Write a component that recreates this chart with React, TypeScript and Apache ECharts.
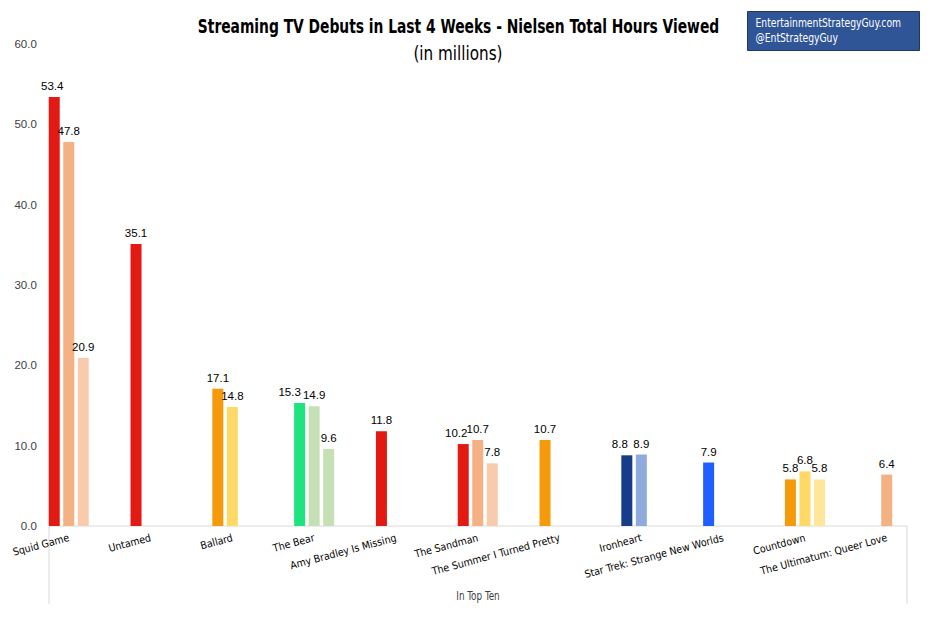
import React, { useEffect, useRef } from "react";
import * as echarts from "echarts";

const categories = [
  "Squid Game",
  "Untamed",
  "Ballard",
  "The Bear",
  "Amy Bradley Is Missing",
  "The Sandman",
  "The Summer I Turned Pretty",
  "Ironheart",
  "Star Trek: Strange New Worlds",
  "Countdown",
  "The Ultimatum: Queer Love",
];

const series1 = [53.4, 35.1, 17.1, 15.3, 11.8, 10.2, 10.7, 8.8, 7.9, 5.8, null];
const series2 = [47.8, null, 14.8, 14.9, null, 10.7, null, 8.9, null, 6.8, 6.4];
const series3 = [20.9, null, null, 9.6, null, 7.8, null, null, null, 5.8, null];

const RED = "#E31A13";
const PEACH = "#F4B183";
const LPEACH = "#F8CBAD";
const ORANGE = "#F59A0A";
const YELLOW = "#FFD966";
const LYELLOW = "#FFE699";
const GREEN = "#1DE47F";
const LGREEN = "#C5E0B4";
const DBLUE = "#183C8C";
const LBLUE = "#8FAADC";
const BLUE = "#1F5EFF";

const colors1 = [RED, RED, ORANGE, GREEN, RED, RED, ORANGE, DBLUE, BLUE, ORANGE, RED];
const colors2 = [PEACH, PEACH, YELLOW, LGREEN, PEACH, PEACH, PEACH, LBLUE, BLUE, YELLOW, PEACH];
const colors3 = [LPEACH, LPEACH, LPEACH, LGREEN, LPEACH, LPEACH, LPEACH, LBLUE, BLUE, LYELLOW, LPEACH];

// horizontal nudges of a few data labels (pixels), as in the reference
const labelNudge1: Record<number, number> = { 0: -2, 3: -10, 5: -7, 7: -7 };

const yTicks = [0, 10, 20, 30, 40, 50, 60];

const TITLE = "Streaming TV Debuts in Last 4 Weeks - Nielsen Total Hours Viewed";
const SUBTITLE = "(in millions)";
const BOX_LINES = ["EntertainmentStrategyGuy.com", "@EntStrategyGuy"];
const AXIS_TITLE = "In Top Ten";

const NARROW = '"DejaVu Sans Condensed", "DejaVu Sans", sans-serif';
const SANS = '"Liberation Sans", Arial, sans-serif';

function makeSeries(name: string, values: (number | null)[], cols: string[], nudge: Record<number, number> = {}) {
  return {
    name,
    type: "bar",
    barWidth: 11,
    barGap: "32%",
    data: values.map((v, i) =>
      v == null
        ? null
        : {
            value: v,
            itemStyle: { color: cols[i] },
            ...(nudge[i] ? { label: { offset: [nudge[i], 0] } } : {}),
          }
    ),
    label: {
      show: true,
      position: "top",
      distance: 5,
      fontFamily: SANS,
      fontSize: 11.5,
      color: "#000",
      formatter: (p: any) => Number(p.value).toFixed(1),
    },
  };
}

export default function App() {
  const ref = useRef<HTMLDivElement>(null);
  useEffect(() => {
    if (!ref.current) return;
    const chart = echarts.init(ref.current, undefined, { renderer: "svg" });
    const axisColor = "#D9D9D9";
    chart.setOption({
      animation: false,
      backgroundColor: "#fff",
      grid: { left: 27.85, right: 11.35, top: 44, bottom: 105, containLabel: false },
      xAxis: {
        type: "category",
        data: categories,
        axisLine: { show: false },
        axisTick: { show: false },
        axisLabel: {
          interval: 0,
          rotate: 15,
          margin: 11,
          fontFamily: NARROW,
          fontSize: 10.5,
          color: "#000",
        },
      },
      yAxis: {
        type: "value",
        min: yTicks[0],
        max: yTicks[yTicks.length - 1],
        interval: 10,
        axisLine: { show: false },
        axisTick: { show: false },
        splitLine: { show: false },
        axisLabel: {
          margin: -9,
          fontFamily: SANS,
          fontSize: 11.5,
          color: "#404040",
          formatter: (v: number) => v.toFixed(1),
        },
      },
      series: [
        makeSeries("s1", series1, colors1, labelNudge1),
        makeSeries("s2", series2, colors2),
        makeSeries("s3", series3, colors3),
      ],
      graphic: [
        { type: "line", shape: { x1: 49, y1: 526, x2: 907, y2: 526 }, style: { stroke: axisColor, lineWidth: 1 }, silent: true },
        { type: "line", shape: { x1: 49, y1: 526, x2: 49, y2: 604 }, style: { stroke: axisColor, lineWidth: 1 }, silent: true },
        { type: "line", shape: { x1: 907, y1: 526, x2: 907, y2: 604 }, style: { stroke: axisColor, lineWidth: 1 }, silent: true },
        {
          type: "text",
          x: 478,
          y: 596,
          scaleX: 0.82,
          style: { text: AXIS_TITLE, fontFamily: NARROW, fontSize: 12, fill: "#404040", align: "center", verticalAlign: "middle" },
        },
        {
          type: "text",
          x: 458.5,
          y: 26,
          scaleX: 0.81,
          style: { text: TITLE, fontFamily: NARROW, fontWeight: "bold", fontSize: 19, fill: "#000", align: "center", verticalAlign: "middle" },
        },
        {
          type: "text",
          x: 458,
          y: 53,
          scaleX: 0.89,
          style: { text: SUBTITLE, fontFamily: NARROW, fontSize: 19, fill: "#000", align: "center", verticalAlign: "middle" },
        },
        {
          type: "rect",
          shape: { x: 747.5, y: 11.5, width: 172, height: 39 },
          style: { fill: "#2F5597", stroke: "#1F3864", lineWidth: 1 },
        },
        {
          type: "text",
          x: 755.5,
          y: 23,
          scaleX: 0.82,
          style: { text: BOX_LINES[0], fontFamily: NARROW, fontSize: 12.5, fill: "#fff", align: "left", verticalAlign: "middle" },
        },
        {
          type: "text",
          x: 755.5,
          y: 38,
          scaleX: 0.82,
          style: { text: BOX_LINES[1], fontFamily: NARROW, fontSize: 12.5, fill: "#fff", align: "left", verticalAlign: "middle" },
        },
      ],
    });
    return () => chart.dispose();
  }, []);
  return (
    <div
      ref={ref}
      style={{ position: "fixed", left: 0, top: 0, width: 939, height: 631, background: "#fff" }}
    />
  );
}
